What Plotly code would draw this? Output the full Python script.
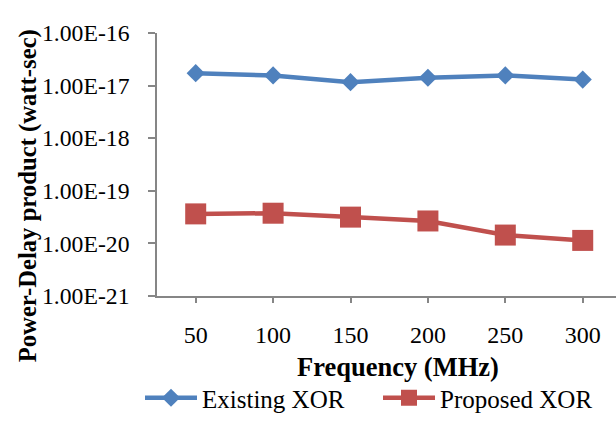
import plotly.graph_objects as go

frequencies = ["50", "100", "150", "200", "250", "300"]
existing_xor = [1.72e-17, 1.56e-17, 1.16e-17, 1.41e-17, 1.56e-17, 1.30e-17]
proposed_xor = [3.64e-20, 3.75e-20, 3.16e-20, 2.67e-20, 1.44e-20, 1.14e-20]
y_tick_vals = [1e-21, 1e-20, 1e-19, 1e-18, 1e-17, 1e-16]
y_tick_text = ["1.00E-21", "1.00E-20", "1.00E-19", "1.00E-18", "1.00E-17", "1.00E-16"]

FONT = "Liberation Serif"
AXIS_COLOR = "#868686"

fig = go.Figure()
fig.add_trace(go.Scatter(
    x=frequencies, y=existing_xor, name="Existing XOR", mode="lines+markers",
    line=dict(color="#4F81BD", width=4.5),
    marker=dict(symbol="diamond", size=14, color="#4F81BD"),
))
fig.add_trace(go.Scatter(
    x=frequencies, y=proposed_xor, name="Proposed XOR", mode="lines+markers",
    line=dict(color="#C0504D", width=4.5),
    marker=dict(symbol="square", size=21, color="#C0504D"),
))

fig.update_layout(
    width=616, height=421,
    margin=dict(l=157, r=0, t=33, b=124),
    paper_bgcolor="white", plot_bgcolor="white",
    font=dict(family=FONT, color="black", size=22),
    showlegend=True,
    legend=dict(
        orientation="h", x=-0.015, xanchor="left", y=-0.39, yanchor="middle",
        font=dict(family=FONT, size=25, color="black"),
        itemwidth=52, entrywidth=171, bgcolor="rgba(0,0,0,0)",
    ),
    xaxis=dict(
        type="category", range=[-0.5, 5.43], automargin=False,
        showline=True, linecolor=AXIS_COLOR, linewidth=1.5,
        ticks="outside", ticklen=5, tickcolor=AXIS_COLOR, tickwidth=1.5,
        showgrid=False, zeroline=False,
        tickfont=dict(family=FONT, size=24, color="black"),
        ticklabelstandoff=11,
    ),
    yaxis=dict(
        type="log", range=[-21, -16], automargin=False,
        tickvals=y_tick_vals, ticktext=y_tick_text,
        showline=True, linecolor=AXIS_COLOR, linewidth=1.5,
        ticks="outside", ticklen=7, tickcolor=AXIS_COLOR, tickwidth=1.5,
        showgrid=False, zeroline=False,
        tickfont=dict(family=FONT, size=23.7, color="black"),
        ticklabelstandoff=14,
    ),
    annotations=[
        dict(text="<b>Power-Delay product (watt-sec)</b>", textangle=-90,
             xref="paper", yref="paper", x=-0.281, y=0.379,
             xanchor="center", yanchor="middle", showarrow=False,
             font=dict(family=FONT, size=24.7, color="black")),
        dict(text="<b>Frequency (MHz)</b>",
             xref="paper", yref="paper", x=0.525, y=-0.269,
             xanchor="center", yanchor="middle", showarrow=False,
             font=dict(family=FONT, size=26.5, color="black")),
    ],
)

fig.write_html(
    "out.html",
    config={"displayModeBar": False},
    post_script="document.body.style.margin='0';document.body.style.overflow='hidden';",
)
